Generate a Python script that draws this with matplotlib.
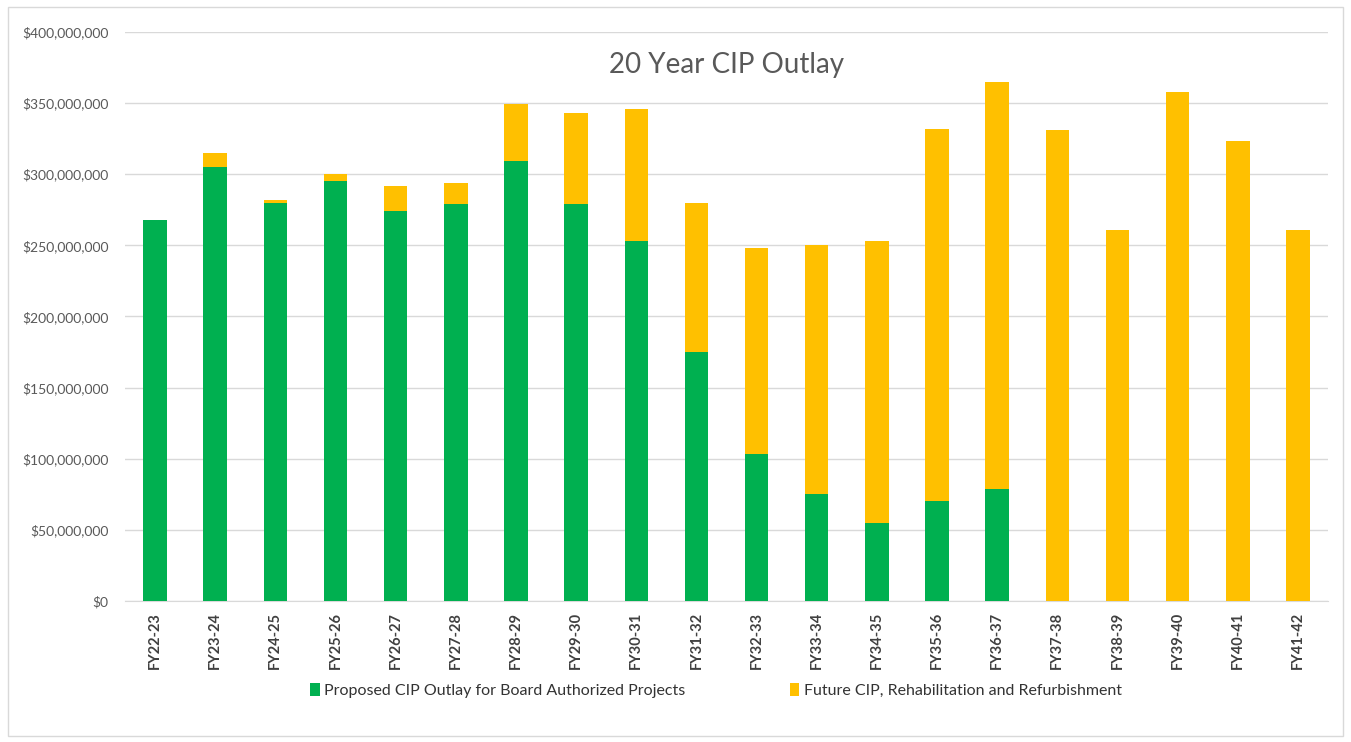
import matplotlib.pyplot as plt
import matplotlib.ticker as mticker
import numpy as np
from matplotlib.patches import Rectangle

plt.rcParams['font.family'] = ['Lato', 'DejaVu Sans']

years = ["FY22-23", "FY23-24", "FY24-25", "FY25-26", "FY26-27", "FY27-28", "FY28-29",
         "FY29-30", "FY30-31", "FY31-32", "FY32-33", "FY33-34", "FY34-35", "FY35-36",
         "FY36-37", "FY37-38", "FY38-39", "FY39-40", "FY40-41", "FY41-42"]

# values in $ millions
board_projects = [268, 305, 280, 295, 274, 279, 309, 279, 253, 175,
                  103, 75, 55, 70, 79, 0, 0, 0, 0, 0]
future_cip = [0, 10, 2, 5, 18, 15, 40, 64, 93, 105,
              145, 175, 198, 262, 286, 331, 261, 358, 323, 261]

green = '#00B050'
yellow = '#FFC000'
grey = '#595959'

board = np.array(board_projects) * 1e6
future = np.array(future_cip) * 1e6
x = np.arange(len(years))

fig = plt.figure(figsize=(13.51, 7.42), dpi=100)
ax = fig.add_axes([0.0925, 0.19, 0.8905, 0.767])

ax.bar(x, board, width=0.39, color=green, zorder=3,
       label="Proposed CIP Outlay for Board Authorized Projects")
ax.bar(x, future, width=0.39, bottom=board, color=yellow, zorder=3,
       label="Future CIP, Rehabilitation and Refurbishment")

ax.set_xlim(-0.5, len(years) - 0.5)
ax.set_ylim(0, 400e6)
ax.set_yticks(np.arange(0, 400e6 + 1, 50e6))
ax.yaxis.set_major_formatter(mticker.FuncFormatter(lambda v, p: f"${v:,.0f}"))
ax.grid(axis='y', color='#D9D9D9', linewidth=1, zorder=0)

for s in ['top', 'right', 'left']:
    ax.spines[s].set_visible(False)
ax.spines['bottom'].set_color('#D9D9D9')

ax.set_xticks(x)
ax.set_xticklabels(years, rotation=90, fontsize=10.5, fontweight='bold', color='#404040')
ax.tick_params(axis='both', length=0)
ax.tick_params(axis='y', labelsize=10, labelcolor=grey, pad=12)
ax.tick_params(axis='x', pad=8)

fig.text(0.538, 0.913, "20 Year CIP Outlay", fontsize=20, color=grey, ha='center', va='center')

fig.legend(loc='center', bbox_to_anchor=(0.53, 0.069), ncol=2, frameon=False,
           fontsize=11.5, handlelength=0.6, handleheight=0.9, handletextpad=0.3,
           columnspacing=6.5, labelcolor='#333333')

fig.patches.append(Rectangle((0.006, 0.008), 0.988, 0.982, transform=fig.transFigure,
                             fill=False, edgecolor='#D9D9D9', linewidth=1))

fig.savefig('out.png', dpi=100)
